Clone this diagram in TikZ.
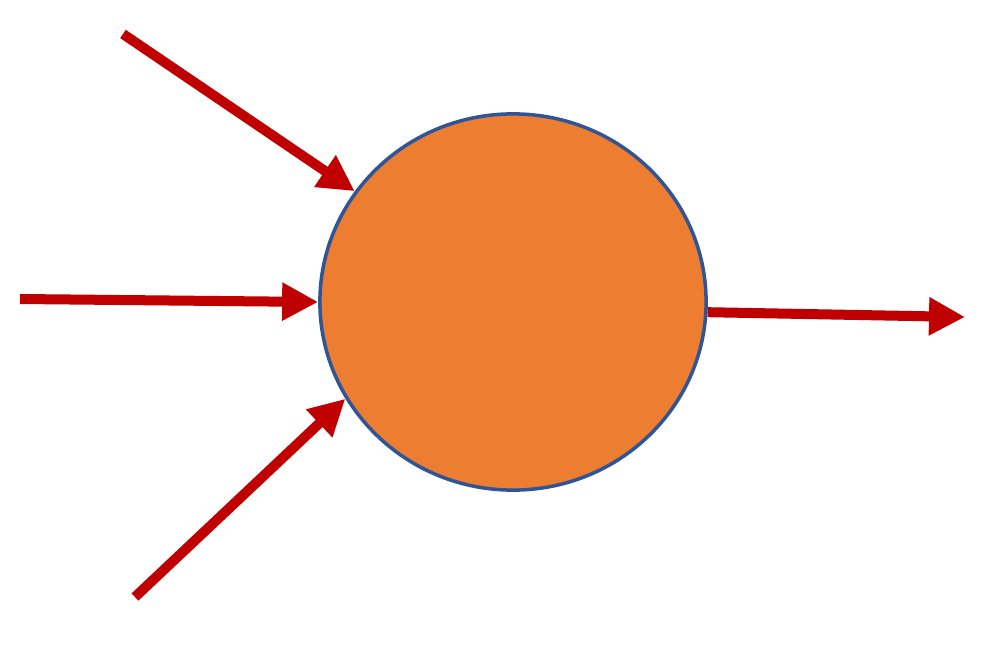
\documentclass[tikz,border=0pt]{standalone}
\usepackage{xcolor}
\usepackage{tikz}
\usetikzlibrary{shapes.geometric,arrows.meta}

\definecolor{cellorange}{HTML}{ED7D31}
\definecolor{cellblue}{HTML}{2F5597}
\definecolor{wirered}{HTML}{C00000}

\begin{document}
\begin{tikzpicture}[
		x=0.01cm, y=-0.01cm,
		cell/.style={ellipse, draw=cellblue, line width=1pt, fill=cellorange, minimum width=3.86cm, minimum height=3.76cm, inner sep=0pt},
		wire/.style={-{Triangle[length=0.36cm, width=0.36cm]}, draw=wirered, line width=0.1cm}
	]
		\useasboundingbox (0,0) rectangle (985,652);
		
		% Neuron body
		\node[cell] (body) at (513,302) {};
		
		% Free ends
		\coordinate (in1) at (123,34);
		\coordinate (in2) at (20,299);
		\coordinate (in3) at (135,597);
		\coordinate (out) at (965,317);
		
		% Inputs
		\draw[wire] (in1) -- (body.145.5);
		\draw[wire] (in2) -- (body.180.5);
		\draw[wire] (in3) -- (body.210.9);
		
		% Output
		\draw[wire] (body.-3.6) -- (out);
	\end{tikzpicture}
\end{document}
